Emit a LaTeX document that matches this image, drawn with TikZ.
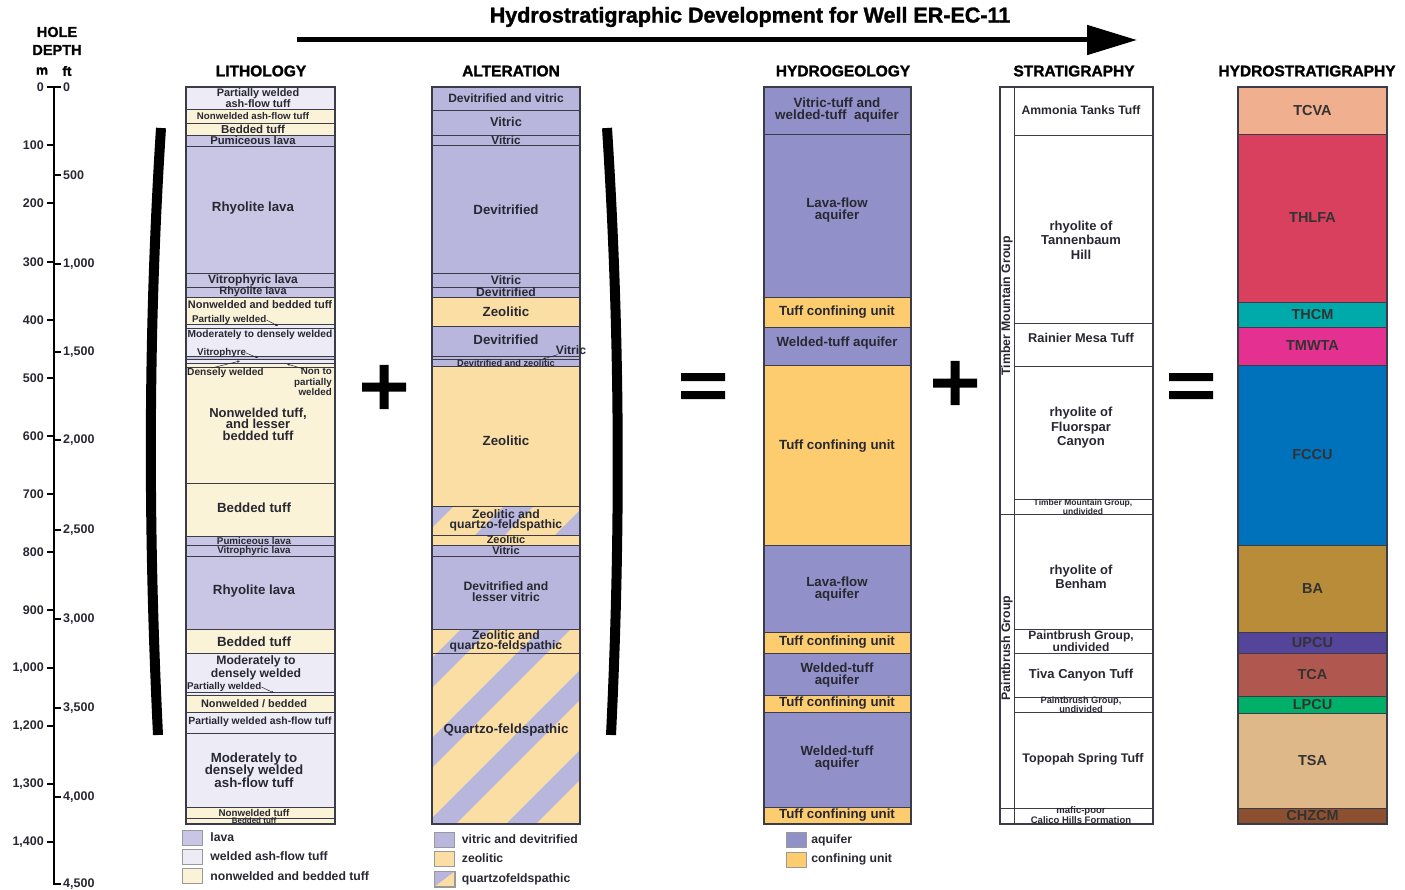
\documentclass[tikz,border=0pt]{standalone}
\usepackage{fontspec}
\setmainfont{Liberation Sans}
\newfontfamily\heavyfont[BoldFeatures={FakeBold=1.5}]{Liberation Sans}
\usepackage{tikz}
\usetikzlibrary{arrows.meta,positioning}

\definecolor{lavaC}{RGB}{200,198,228}
\definecolor{weldC}{RGB}{236,235,246}
\definecolor{nonwC}{RGB}{251,243,216}
\definecolor{vitC}{RGB}{184,182,220}
\definecolor{zeoC}{RGB}{251,222,164}
\definecolor{aqfC}{RGB}{146,144,200}
\definecolor{cnfC}{RGB}{253,204,110}
\definecolor{edgeC}{RGB}{60,60,72}
\definecolor{txtC}{RGB}{40,40,50}
\definecolor{tcvaC}{RGB}{240,176,144}
\definecolor{thlfaC}{RGB}{217,64,94}
\definecolor{thcmC}{RGB}{0,170,170}
\definecolor{tmwtaC}{RGB}{228,48,144}
\definecolor{fccuC}{RGB}{0,114,188}
\definecolor{baC}{RGB}{184,140,56}
\definecolor{upcuC}{RGB}{84,68,154}
\definecolor{tcaC}{RGB}{176,88,80}
\definecolor{lpcuC}{RGB}{0,176,104}
\definecolor{tsaC}{RGB}{222,184,136}
\definecolor{chzcmC}{RGB}{140,80,48}

\newcommand{\lfnt}[2]{\fontsize{#1}{#2}\selectfont\bfseries}
\newcommand{\hfnt}[2]{\heavyfont\fontsize{#1}{#2}\selectfont\bfseries}

\begin{document}
\begin{tikzpicture}[x=1pt, y=-1pt, font=\bfseries]
        \tikzstyle{bed} = [draw=edgeC, line width=0.8pt]
        \tikzstyle{frame} = [draw=edgeC, line width=1.2pt]
        \tikzstyle{lbl} = [text=txtC, align=center, inner sep=0pt, font=\lfnt{13.3}{13}]
        \tikzstyle{sml} = [lbl, font=\lfnt{10.5}{10}]
        \tikzstyle{tny} = [lbl, font=\lfnt{8.5}{7.5}]
        \tikzstyle{head} = [inner sep=0pt, font=\hfnt{15.5}{15.5}]
        \tikzstyle{num} = [inner sep=0pt, text=txtC, font=\lfnt{12.5}{12.5}]
        \tikzstyle{key} = [draw=black!40, line width=0.4pt, minimum width=20pt, minimum height=15pt, inner sep=0pt]
        \tikzstyle{keytxt} = [inner sep=0pt, text=txtC, font=\lfnt{12.2}{12}]
        \tikzstyle{lead} = [-{Stealth[length=3pt,width=2.5pt]}, line width=0.5pt, draw=txtC]
        \tikzstyle{hs} = [inner sep=0pt, text=black!80, font=\lfnt{14.5}{14}]
        \useasboundingbox (0,0) rectangle (1405,890);

        % title and arrow
        \node (title) [inner sep=0pt, font=\hfnt{21.5}{21.5}] at (750,17) {Hydrostratigraphic Development for Well ER-EC-11};
        \coordinate (arS) at (297,40); \coordinate (arE) at (1137,40);
        \draw[line width=5pt, -{Triangle[length=50pt,width=29pt]}] (arS) -- (arE);

        % depth scale
        \node (hole) [head, font=\hfnt{14.5}{14.5}] at (57,32) {HOLE};
        \node (depth) [head, font=\hfnt{14.5}{14.5}] at (57,50) {DEPTH};
        \node (mU) [head, font=\hfnt{13.5}{13.5}] at (42,71) {m};
        \node (ftU) [head, font=\hfnt{13.5}{13.5}] at (67,71) {ft};
        \coordinate (axT) at (54,87); \coordinate (axB) at (54,885);
        \draw[line width=2.4pt] (axT) -- (axB);
        \draw[line width=2pt] (47,87) -- (61,87);
        \node (m0) [num, anchor=east] at (44,87) {0};
        \node (f0) [num, anchor=west] at (63,87) {0};
        \foreach \y/\v in {145/100,203/200,262/300,320/400,378/500,436/600,494/700,552/800,610/900,668/{1,000},726/{1,200},784/{1,300},842/{1,400}}
          {\draw[line width=2pt] (47,\y) -- (54,\y); \node[num, anchor=east] at (44,\y) {\v};}
        \foreach \y/\v in {175/500,264/{1,000},352/{1,500},440/{2,000},530/{2,500},619/{3,000},708/{3,500},797/{4,000},884/{4,500}}
          {\draw[line width=2pt] (54,\y) -- (61,\y); \node[num, anchor=west] at (63,\y) {\v};}

        % column heads
        \node (hLith) [head] at (261,71) {LITHOLOGY};
        \node (hAlt) [head] at (511,71) {ALTERATION};
        \node (hHyd) [head] at (843,71) {HYDROGEOLOGY};
        \node (hStr) [head] at (1074,71) {STRATIGRAPHY};
        \node (hHst) [head] at (1307,71) {HYDROSTRATIGRAPHY};

        % lithology
        \foreach \t/\b/\c in {87/109/weldC,109/123/nonwC,123/135/nonwC,135/146/lavaC,146/273/lavaC,273/287/lavaC,287/297/lavaC,297/324/nonwC,324/328/weldC,328/356/weldC,356/359/lavaC,359/363/weldC,363/367/nonwC,367/483/nonwC,483/536/nonwC,536/545/lavaC,545/556/lavaC,556/629/lavaC,629/653/nonwC,653/692/weldC,692/695/weldC,695/712/nonwC,712/733/weldC,733/807/weldC,807/818/nonwC,818/824/nonwC}
          \filldraw[bed, fill=\c] (186,\t) rectangle (335,\b);
        \draw[frame] (186,87) rectangle (335,824);
        \node (li1) [sml, font=\lfnt{10.9}{9.5}] at (258,98) {Partially welded\\ash-flow tuff};
        \node (li2) [sml, font=\lfnt{9.7}{9}] at (253,116.5) {Nonwelded ash-flow tuff};
        \node (li3) [sml, font=\lfnt{11.5}{11}] at (253,129) {Bedded tuff};
        \node (li4) [sml, font=\lfnt{11.3}{11}] at (253,140.5) {Pumiceous lava};
        \node (li5) [lbl] at (253,208) {Rhyolite lava};
        \node (li6) [sml, font=\lfnt{12}{11}] at (253,280) {Vitrophyric lava};
        \node (li7) [sml, font=\lfnt{10.9}{10}] at (253,292) {Rhyolite lava};
        \node (li8) [sml, font=\lfnt{11}{10}] at (260,305) {Nonwelded and bedded tuff};
        \node (li9) [sml, font=\lfnt{9.8}{9}, anchor=west] at (192,320) {Partially welded};
        \node (li10) [sml, font=\lfnt{10.2}{10}] at (260,335) {Moderately to densely welded};
        \node (li11) [sml, font=\lfnt{9.8}{9}, anchor=west] at (197,353) {Vitrophyre};
        \node (li12) [sml, font=\lfnt{10.2}{10}, anchor=west] at (187,373) {Densely welded};
        \node (li13) [sml, font=\lfnt{9.8}{10.5}, align=right, anchor=north east] at (332,368) {Non to\\partially\\welded};
        \node (li14) [lbl, font=\lfnt{13}{11.5}] at (258,424) {Nonwelded tuff,\\and lesser\\bedded tuff};
        \node (li15) [lbl] at (254,508) {Bedded tuff};
        \node (li16) [sml, font=\lfnt{9.8}{9}] at (254,540.5) {Pumiceous lava};
        \node (li17) [sml, font=\lfnt{9.8}{9}] at (254,550.5) {Vitrophyric lava};
        \node (li18) [lbl] at (254,591) {Rhyolite lava};
        \node (li19) [lbl] at (254,642) {Bedded tuff};
        \node (li20) [lbl, font=\lfnt{12.2}{10.5}] at (256,668) {Moderately to\\densely welded};
        \node (li21) [sml, font=\lfnt{9.8}{9}, anchor=west] at (187,687) {Partially welded};
        \node (li22) [sml, font=\lfnt{10.9}{10}] at (254,703.5) {Nonwelded / bedded};
        \node (li23) [sml, font=\lfnt{10.4}{10}] at (260,722) {Partially welded ash-flow tuff};
        \node (li24) [lbl, font=\lfnt{13.3}{12.5}] at (254,770) {Moderately to\\densely welded\\ash-flow tuff};
        \node (li25) [sml, font=\lfnt{9.8}{9}] at (254,812.5) {Nonwelded tuff};
        \node (li26) [tny, font=\lfnt{8}{7}] at (254,821) {Bedded tuff};
        \coordinate (pwA) at (278,326); \coordinate (vpA) at (258,358);
        \coordinate (dwA) at (240,361); \coordinate (npA) at (287,364);
        \coordinate (pwB) at (274,693);
        \draw[lead] (li9.east) -- (pwA);
        \draw[lead] (li11.east) -- (vpA);
        \draw[lead] ([xshift=-14pt]li12.north) -- (dwA);
        \draw[lead] ([xshift=-28pt,yshift=-1pt]li13.north east) -- (npA);
        \draw[lead] (li21.east) -- (pwB);

        % alteration
        \foreach \t/\b/\c in {87/110/vitC,110/135/vitC,135/145/vitC,145/273/vitC,273/287/vitC,287/297/vitC,297/326/zeoC,326/356/vitC,356/359/vitC,359/366/vitC,366/506/zeoC,506/535/zeoC,535/545/zeoC,545/556/vitC,556/629/vitC,629/653/zeoC,653/824/zeoC}
          \filldraw[bed, fill=\c] (432,\t) rectangle (580,\b);
        \begin{scope}
          \clip (432,506) rectangle (580,535) (432,629) rectangle (580,824);
          \foreach \s in {25,105,...,665}
            \draw[vitC, line width=21pt] (\s,840) -- ++(420,-420);
        \end{scope}
        \draw[bed] (432,506) rectangle (580,535) (432,629) rectangle (580,653) (432,653) rectangle (580,824);
        \draw[frame] (432,87) rectangle (580,824);
        \node (al1) [sml, font=\lfnt{12}{11}] at (506,98) {Devitrified and vitric};
        \node (al2) [sml, font=\lfnt{12.8}{12}] at (506,122) {Vitric};
        \node (al3) [sml, font=\lfnt{11.7}{11}] at (506,140.5) {Vitric};
        \node (al4) [lbl] at (506,210) {Devitrified};
        \node (al5) [sml, font=\lfnt{12.2}{11}] at (506,280) {Vitric};
        \node (al6) [sml, font=\lfnt{12.2}{11}] at (506,292) {Devitrified};
        \node (al7) [lbl] at (506,312) {Zeolitic};
        \node (al8) [lbl] at (506,340) {Devitrified};
        \node (al9) [sml, font=\lfnt{12.2}{11}] at (571,350) {Vitric};
        \node (al10) [sml, font=\lfnt{9.2}{8}] at (506,363) {Devitrified and zeolitic};
        \node (al11) [lbl] at (506,441) {Zeolitic};
        \node (al12) [sml, font=\lfnt{12.2}{10}] at (506,520) {Zeolitic and\\quartzo-feldspathic};
        \node (al13) [sml, font=\lfnt{11}{10}] at (506,540) {Zeolitic};
        \node (al14) [sml, font=\lfnt{11}{10}] at (506,550.5) {Vitric};
        \node (al15) [sml, font=\lfnt{12.2}{11}] at (506,592) {Devitrified and\\lesser vitric};
        \node (al16) [sml, font=\lfnt{12.2}{10}] at (506,641) {Zeolitic and\\quartzo-feldspathic};
        \node (al17) [lbl] at (506,730) {Quartzo-feldspathic};
        \coordinate (vtA) at (543,359);
        \draw[lead] ([xshift=2pt]al9.south west) -- (vtA);

        % hydrogeology
        \foreach \t/\b/\c in {87/134/aqfC,134/297/aqfC,297/327/cnfC,327/365/aqfC,365/545/cnfC,545/632/aqfC,632/653/cnfC,653/695/aqfC,695/712/cnfC,712/807/aqfC,807/824/cnfC}
          \filldraw[bed, fill=\c] (764,\t) rectangle (911,\b);
        \draw[frame] (764,87) rectangle (911,824);
        \node (hg1) [lbl, font=\lfnt{13.4}{11.5}] at (837,110) {Vitric-tuff and\\welded-tuff\ \ aquifer};
        \node (hg2) [lbl, font=\lfnt{13.3}{11.5}] at (837,210) {Lava-flow\\aquifer};
        \node (hg3) [lbl] at (837,312) {Tuff confining unit};
        \node (hg4) [lbl] at (837,343) {Welded-tuff aquifer};
        \node (hg5) [lbl] at (837,446) {Tuff confining unit};
        \node (hg6) [lbl, font=\lfnt{13.3}{11.5}] at (837,589) {Lava-flow\\aquifer};
        \node (hg7) [lbl] at (837,642) {Tuff confining unit};
        \node (hg8) [lbl, font=\lfnt{13.3}{11.5}] at (837,675) {Welded-tuff\\aquifer};
        \node (hg9) [lbl] at (837,703) {Tuff confining unit};
        \node (hg10) [lbl, font=\lfnt{13.3}{11.5}] at (837,758) {Welded-tuff\\aquifer};
        \node (hg11) [lbl] at (837,815) {Tuff confining unit};

        % stratigraphy
        \filldraw[frame, fill=white] (1000,87) rectangle (1153,824);
        \draw[bed] (1014,87) -- (1014,824);
        \foreach \y in {135,323,366,499,629,653,697,712} \draw[bed] (1014,\y) -- (1153,\y);
        \draw[bed] (1000,514) -- (1153,514) (1000,808) -- (1153,808);
        \node (grpT) [sml, font=\lfnt{12.3}{10}, rotate=90] at (1007,306) {Timber Mountain Group};
        \node (grpP) [sml, font=\lfnt{12.3}{10}, rotate=90] at (1007,648) {Paintbrush Group};
        \node (st1) [lbl, font=\lfnt{12.2}{12}] at (1081,110) {Ammonia Tanks Tuff};
        \node (st2) [lbl, font=\lfnt{13}{14.5}] at (1081,240) {rhyolite of\\Tannenbaum\\Hill};
        \node (st3) [lbl, font=\lfnt{12.8}{12}] at (1081,338) {Rainier Mesa Tuff};
        \node (st4) [lbl, font=\lfnt{13}{14.5}] at (1081,428) {rhyolite of\\Fluorspar\\Canyon};
        \node (st5) [tny, font=\lfnt{8.5}{7}] at (1083,506.5) {Timber Mountain Group,\\undivided};
        \node (st6) [lbl, font=\lfnt{13}{14.5}] at (1081,577) {rhyolite of\\Benham};
        \node (st7) [sml, font=\lfnt{12}{9.5}] at (1081,641) {Paintbrush Group,\\undivided};
        \node (st8) [lbl, font=\lfnt{13}{12}] at (1081,675) {Tiva Canyon Tuff};
        \node (st9) [tny, font=\lfnt{9.2}{7}] at (1081,704.5) {Paintbrush Group,\\undivided};
        \node (st10) [lbl, font=\lfnt{12.5}{12}] at (1083,759) {Topopah Spring Tuff};
        \node (st11) [tny, font=\lfnt{9.5}{8}] at (1081,815.5) {mafic-poor\\Calico Hills Formation};

        % hydrostratigraphy
        \foreach \t/\b/\c/\n in {87/134/tcvaC/TCVA,134/302/thlfaC/THLFA,302/327/thcmC/THCM,327/365/tmwtaC/TMWTA,365/545/fccuC/FCCU,545/632/baC/BA,632/653/upcuC/UPCU,653/696/tcaC/TCA,696/713/lpcuC/LPCU,713/808/tsaC/TSA,808/824/chzcmC/CHZCM}
          {\filldraw[bed, fill=\c] (1238,\t) rectangle (1387,\b);
           \node (hs\n) [hs] at (1312.5,{(\t+\b)/2}) {\n};}
        \draw[frame] (1238,87) rectangle (1387,824);

        % brackets, plus and equals
        \draw[line width=10pt] (161,128) .. controls (148,330) and (148,530) .. (158,735);
        \draw[line width=10pt] (607,128) .. controls (620,330) and (621,530) .. (611,735);
        \fill (362,382.5) rectangle (406,391.5) (379.5,365) rectangle (388.5,409);
        \fill (933,378.5) rectangle (977,387.5) (950.5,361) rectangle (959.5,405);
        \fill (681,373) rectangle (725,381) (681,391) rectangle (725,399);
        \fill (1169,373) rectangle (1213,381) (1169,391) rectangle (1213,399);

        % legends
        \node (kLava) [key, fill=lavaC] at (192,837.5) {};
        \node (kWeld) [key, fill=weldC] at (192,856.5) {};
        \node (kNonw) [key, fill=nonwC] at (192,876) {};
        \node (tLava) [keytxt, right=8pt of kLava] {lava};
        \node (tWeld) [keytxt, right=8pt of kWeld] {welded ash-flow tuff};
        \node (tNonw) [keytxt, right=8pt of kNonw] {nonwelded and bedded tuff};
        \node (kVit) [key, fill=vitC] at (444.5,839.5) {};
        \node (kZeo) [key, fill=zeoC] at (444.5,858.5) {};
        \node (kQfs) [key, fill=zeoC] at (444.5,879) {};
        \fill[vitC] (kQfs.north west) -- (kQfs.north east) -- (kQfs.south west) -- cycle;
        \draw[black!40, line width=0.4pt] (kQfs.north west) rectangle (kQfs.south east);
        \node (tVit) [keytxt, right=7pt of kVit] {vitric and devitrified};
        \node (tZeo) [keytxt, right=7pt of kZeo] {zeolitic};
        \node (tQfs) [keytxt, right=7pt of kQfs] {quartzofeldspathic};
        \node (kAqf) [key, fill=aqfC] at (796,840) {};
        \node (kCnf) [key, fill=cnfC] at (796,859.5) {};
        \node (tAqf) [keytxt, right=5pt of kAqf] {aquifer};
        \node (tCnf) [keytxt, right=5pt of kCnf] {confining unit};
\end{tikzpicture}
\end{document}
